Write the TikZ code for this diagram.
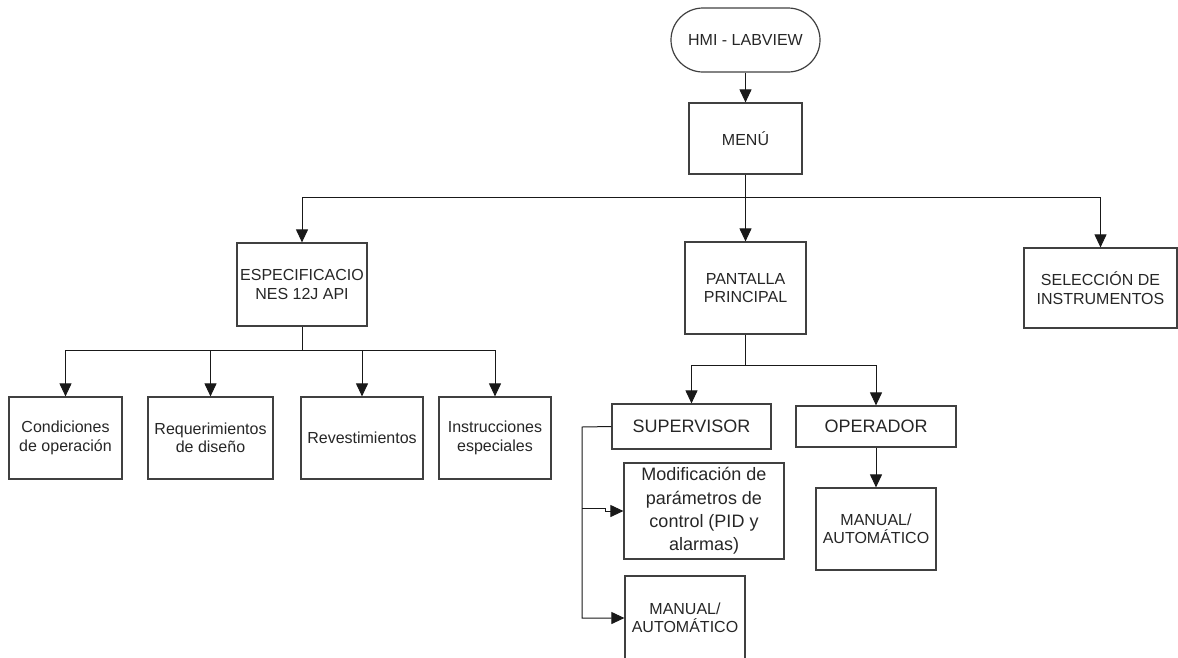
\documentclass[tikz,border=0pt]{standalone}
\usepackage{fontspec}
\setmainfont{Liberation Sans}
\usetikzlibrary{calc,arrows.meta}

\begin{document}
\begin{tikzpicture}[x=1pt,y=-1pt,
    boxnode/.style={draw=black!75,line width=1.2,rectangle,inner sep=0pt,align=center,text=black!85,font=\fontsize{16}{18.3}\selectfont},
    startnode/.style={boxnode,rounded corners=32pt},
    bignode/.style={boxnode,font=\fontsize{18}{23.3}\selectfont},
    arr/.style={draw=black!90,line width=1,-{Triangle[length=13pt,width=12pt]}},
    lin/.style={draw=black!90,line width=1}]

  %% Page frame
  \useasboundingbox (0,0) rectangle (1178,657);
  \clip (0,0) rectangle (1178,657);

  %% Top of the tree
  \node[startnode,minimum width=149,minimum height=64] (hmi) at (745.5,40) {HMI - LABVIEW};
  \node[boxnode,minimum width=113,minimum height=71] (menu) at (745.5,138.5) {MENÚ};

  %% First level
  \node[boxnode,minimum width=130,minimum height=83] (espec) at (302,284.5) {ESPECIFICACIO\\NES 12J API};
  \node[boxnode,minimum width=121,minimum height=92] (pantalla) at (745.5,288) {PANTALLA\\PRINCIPAL};
  \node[boxnode,minimum width=153,minimum height=80] (seleccion) at (1100.5,288) {SELECCIÓN DE\\INSTRUMENTOS};

  %% Under the specifications
  \foreach \name/\cx/\w/\txt in {cond/65.5/113/{Condiciones\\de operación},
      req/210.5/125/{Requerimientos\\de diseño},
      rev/362/122/{Revestimientos},
      inst/495/112/{Instrucciones\\especiales}}{
    \node[boxnode,minimum width=\w,minimum height=82] (\name) at (\cx,438) {\txt};
  }

  %% Under the main screen
  \node[bignode,minimum width=159,minimum height=45] (supervisor) at (691.5,426.5) {SUPERVISOR};
  \node[bignode,minimum width=160,minimum height=41] (operador) at (876,426.5) {OPERADOR};
  \node[bignode,minimum width=160,minimum height=96] (modif) at (704,511) {Modificación de\\parámetros de\\control (PID y\\alarmas)};
  \node[boxnode,minimum width=120,minimum height=84] (manualsup) at (685,618) {MANUAL/\\AUTOMÁTICO};
  \node[boxnode,minimum width=120,minimum height=82] (manualop) at (876,529) {MANUAL/\\AUTOMÁTICO};

  %% Junction points
  \coordinate (j1) at (745.5,197);
  \coordinate (j2) at (302,350);
  \coordinate (j3) at (745.5,365);
  \coordinate (j4) at (582,427);
  \coordinate (j5) at (582,508);

  %% Connectors
  \draw[arr] (hmi) -- (menu);
  \draw[lin,line width=1.6] (menu) -- (j1);
  \draw[arr] (j1) -| (espec);
  \draw[arr] (j1) -- (pantalla);
  \draw[arr] (j1) -| (seleccion);

  \draw[lin] (espec) -- (j2);
  \foreach \name in {cond,req,rev,inst}{
    \draw[arr] (j2) -| (\name);
  }

  \draw[lin] (pantalla) -- (j3);
  \draw[arr] (j3) -| (supervisor);
  \draw[arr] (j3) -| (operador);
  \draw[arr] (operador) -- (manualop);

  \draw[arr] (supervisor.west) -- (j4) |- (manualsup);
  \draw[arr] (j5) -- ++(23,0) |- (modif);

\end{tikzpicture}
\end{document}
